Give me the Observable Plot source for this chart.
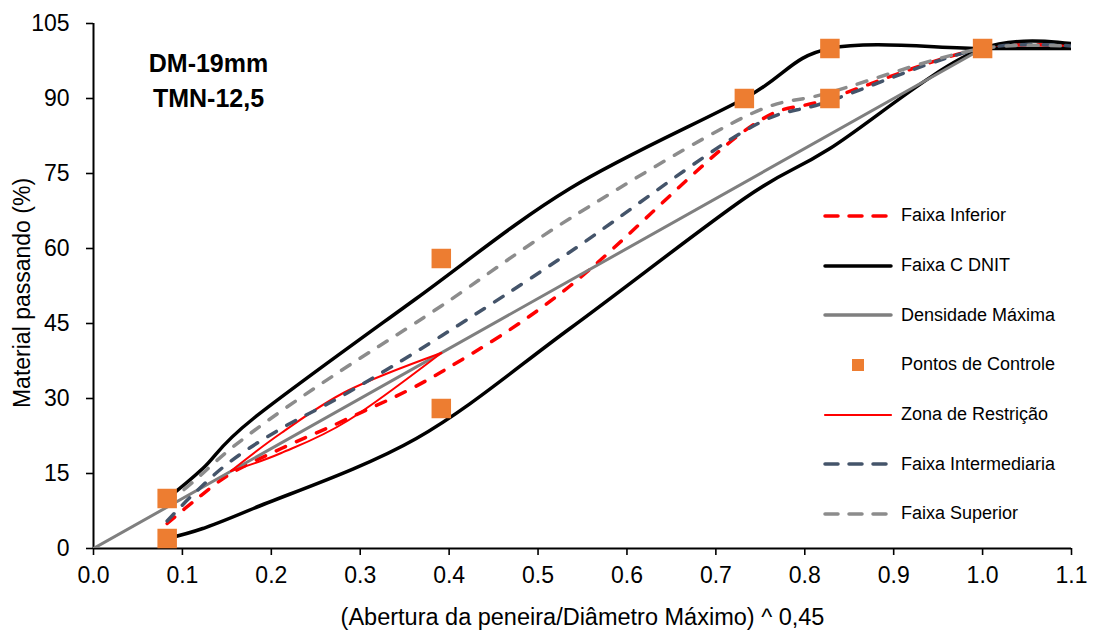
<!DOCTYPE html>
<html>
<head>
<meta charset="utf-8">
<script src="https://cdn.jsdelivr.net/npm/d3@7"></script>
<script src="https://cdn.jsdelivr.net/npm/@observablehq/plot@0.6"></script>
<style>
  html, body { margin: 0; padding: 0; background: #fff; }
  #wrap { position: relative; width: 1093px; height: 637px; font-family: "Liberation Sans", Arial, sans-serif; }
  #legend { position: absolute; left: 823px; top: 191px; }
  #legend .row { display: flex; align-items: center; height: 49.7px; }
  #legend svg { width: 70px; height: 12px; margin-right: 8px; }
  #legend span { font-size: 18px; color: #000; }
</style>
</head>
<body>
<div id="wrap"></div>
<script>
// Maximum aggregate size (mm); abscissa is (opening / Dmax) ^ 0.45
const dmax = 19;

// DNIT "Faixa C" envelope sieves (mm) and limits (% passing)
const sieveBand = [0.075, 0.18, 0.42, 2.0, 4.75, 9.5, 12.5, 19, 25];
const dnitLower = [2, 4, 8, 22, 44, 70, 80, 100, 100];
const dnitUpper = [10, 16, 26, 50, 72, 90, 100, 100, 100];

// Trial blend sieves (mm) and gradations (% passing)
const sieveMix = [0.075, 0.15, 0.3, 0.6, 1.18, 2.36, 4.75, 9.5, 12.5, 19, 25];
const faixaInferior = [5, 9.5, 15, 20, 26, 35.3, 52.5, 83.5, 90, 100, 100];
const faixaIntermediaria = [5.5, 11, 17.5, 24, 31.2, 42.5, 59.3, 83.5, 89.5, 100, 100];
const faixaSuperior = [9, 13.5, 20, 27.5, 36.5, 48.5, 66, 86.3, 91.2, 100, 100];

// Superpave restricted zone (12.5 mm NMPS)
const restrSieves = [0.3, 0.6, 1.18, 2.36];
const restrUpper = [15.5, 23.1, 31.6, 39.1];
const restrLower = [15.5, 19.1, 25.6, 39.1];

// Superpave control points
const controlSieves = [0.075, 0.075, 2.36, 2.36, 9.5, 12.5, 12.5, 19];
const controlValues = [2, 10, 28, 58, 90, 90, 100, 100];

// Maximum density line end points
const densitySieves = [0, 19];
const densityValues = [0, 100];

const xTicks = [0, 0.1, 0.2, 0.3, 0.4, 0.5, 0.6, 0.7, 0.8, 0.9, 1.0, 1.1];
const yTicks = [0, 15, 30, 45, 60, 75, 90, 105];

const pos = d => Math.pow(d / dmax, 0.45);
const series = (sieves, values) => sieves.map((d, i) => ({x: pos(d), y: values[i]}));

const colors = {
  inferior: "#ff0000",
  dnit: "#000000",
  density: "#7f7f7f",
  control: "#ed7d31",
  restr: "#ff0000",
  inter: "#44546a",
  superior: "#8c8c8c"
};
const dash = "10,12";

const font = '"Liberation Sans", Arial, sans-serif';

const smooth = (data, stroke, extra = {}) =>
  Plot.line(data, {x: "x", y: "y", stroke, strokeWidth: 3.5, curve: "cardinal", clip: true, strokeLinecap: "round", ...extra});

const chart = Plot.plot({
  width: 1093,
  height: 637,
  marginLeft: 93,
  marginRight: 22,
  marginTop: 23,
  marginBottom: 89,
  style: {fontFamily: font, fontSize: "23px", color: "#000", background: "#fff"},
  x: {domain: [0, 1.1]},
  y: {domain: [0, 105]},
  marks: [
    Plot.axisX({ticks: xTicks, tickFormat: d3.format(".1f"), tickSize: 7, tickPadding: 11, strokeWidth: 1.6, fontSize: 23, label: null}),
    Plot.axisY({ticks: yTicks, tickFormat: d => String(d), tickSize: 7, tickPadding: 17, strokeWidth: 1.6, fontSize: 23, label: null}),
    Plot.ruleY([0], {stroke: "#000", strokeWidth: 2}),
    Plot.ruleX([0], {stroke: "#000", strokeWidth: 2}),
    // series drawn in legend order
    smooth(series(sieveMix, faixaInferior), colors.inferior, {strokeDasharray: dash}),
    smooth(series(sieveBand, dnitLower), colors.dnit),
    smooth(series(sieveBand, dnitUpper), colors.dnit),
    smooth(series(densitySieves, densityValues), colors.density, {curve: "linear", strokeWidth: 3}),
    smooth(series(restrSieves, restrUpper), colors.restr, {strokeWidth: 2}),
    smooth(series(restrSieves, restrLower), colors.restr, {strokeWidth: 2}),
    smooth(series(sieveMix, faixaIntermediaria), colors.inter, {strokeDasharray: dash}),
    smooth(series(sieveMix, faixaSuperior), colors.superior, {strokeDasharray: dash}),
    Plot.dot(series(controlSieves, controlValues), {x: "x", y: "y", symbol: "square", r: 11, fill: colors.control, stroke: "none"}),
    Plot.text(["DM-19mm\nTMN-12,5"], {frameAnchor: "top-left", dx: 115, dy: 55, lineAnchor: "middle", textAnchor: "middle", fontWeight: "bold", fontSize: 25, lineHeight: 1.4}),
    Plot.text(["Material passando (%)"], {frameAnchor: "left", rotate: -90, textAnchor: "middle", dx: -71, dy: 7, fontSize: 23}),
    Plot.text(["(Abertura da peneira/Diâmetro Máximo) ^ 0,45"], {frameAnchor: "bottom", textAnchor: "middle", dy: 76, fontSize: 23.5})
  ]
});

const wrap = document.getElementById("wrap");
wrap.appendChild(chart);

// Legend entries drawn beside the series
const legendItems = [
  {label: "Faixa Inferior", color: colors.inferior, width: 3.5, dash: true},
  {label: "Faixa C DNIT", color: colors.dnit, width: 3.5},
  {label: "Densidade Máxima", color: colors.density, width: 3.5},
  {label: "Pontos de Controle", color: colors.control, square: true},
  {label: "Zona de Restrição", color: colors.restr, width: 2.2},
  {label: "Faixa Intermediaria", color: colors.inter, width: 3.5, dash: true},
  {label: "Faixa Superior", color: colors.superior, width: 3.5, dash: true}
];
const legend = document.createElement("div");
legend.id = "legend";
for (const item of legendItems) {
  const row = document.createElement("div");
  row.className = "row";
  const sample = item.square
    ? `<rect x="29" y="0" width="12" height="12" fill="${item.color}"/>`
    : `<line x1="2" x2="68" y1="6" y2="6" stroke="${item.color}" stroke-width="${item.width}" stroke-linecap="round"${item.dash ? ' stroke-dasharray="13,11"' : ""}/>`;
  row.innerHTML = `<svg viewBox="0 0 70 12">${sample}</svg><span>${item.label}</span>`;
  legend.appendChild(row);
}
wrap.appendChild(legend);
</script>
</body>
</html>
